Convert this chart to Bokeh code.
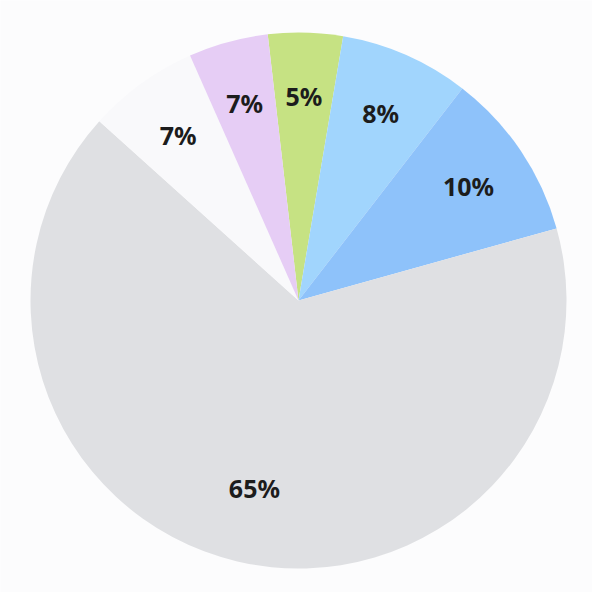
import math
from bokeh.plotting import figure
from bokeh.models import Range1d, ColumnDataSource
from bokeh.core.properties import value
from bokeh.embed import file_html
from bokeh.resources import INLINE

# Data (clockwise from the top, starting with the green slice)
labels = ["5%", "8%", "10%", "65%", "7%", "7%"]
shares = [4.5, 7.8, 10.2, 66.0, 6.7, 4.8]
colors = ["#c6e283", "#a1d5fd", "#8ec2fa", "#dfe0e3", "#f9f9fb", "#e6cdf5"]
start_offset_deg = -6.6  # clockwise from 12 o'clock where first slice begins

W, H = 592, 592
cx, cy, R = 298, 292, 268

p = figure(width=W, height=H, output_backend="svg", toolbar_location=None,
           x_range=Range1d(0, W), y_range=Range1d(0, H), min_border=0)
p.axis.visible = False
p.grid.visible = False
p.outline_line_color = None
p.background_fill_color = "#fcfcfd"
p.border_fill_color = "#fcfcfd"

total = sum(shares)
starts, ends, lx, ly = [], [], [], []
theta = start_offset_deg
largest = max(shares)
for s in shares:
    span = 360.0 * s / total
    t0, t1 = theta, theta + span
    starts.append(math.radians(90 - t0))
    ends.append(math.radians(90 - t1))
    mid = math.radians(90 - (t0 + t1) / 2)
    rf = 0.72 if s == largest else 0.765
    lx.append(cx + rf * R * math.cos(mid))
    ly.append(cy + rf * R * math.sin(mid))
    theta = t1

src = ColumnDataSource(dict(start=starts, end=ends, color=colors,
                            lx=lx, ly=ly, label=labels))
p.wedge(x=cx, y=cy, radius=R, start_angle="start", end_angle="end",
        direction="clock", fill_color="color", line_color=None, source=src)
p.text(x="lx", y="ly", text="label", source=src, text_align="center",
       text_baseline="middle", text_font=value("Noto Sans"),
       text_font_style="bold", text_font_size="25px", text_color="#1c1c1c")

open("out.html", "w").write(file_html(p, INLINE))
